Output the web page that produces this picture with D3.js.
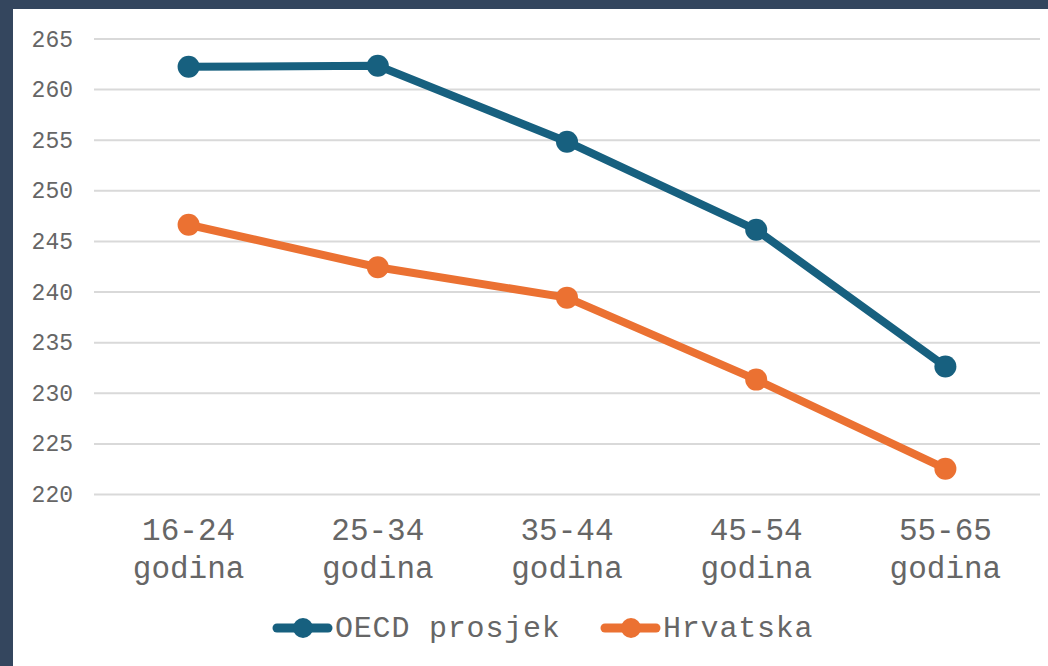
<!doctype html>
<html>
  <head>
    <meta charset="utf-8">
    <script src="https://cdn.jsdelivr.net/npm/d3@7"></script>
    <style>
      body { margin: 0; background: #ffffff; }
      svg { display: block; }
    </style>
  </head>
  <body>
    <script>
    // chart data
    var categories = ["16-24 godina", "25-34 godina", "35-44 godina", "45-54 godina", "55-65 godina"];
    var oecdValues = [262.2, 262.3, 254.8, 246.1, 232.6];
    var hrvValues = [246.6, 242.4, 239.4, 231.3, 222.5];
    var seriesNames = ["OECD prosjek", "Hrvatska"];
    var seriesColors = ["#17607f", "#eb7132"];
    var yTicks = [220, 225, 230, 235, 240, 245, 250, 255, 260, 265];

    var width = 1048;
    var height = 666;
    var font = "'Liberation Mono', 'Courier New', monospace";
    var textColor = "#666666";

    var svg = d3.select("body")
              .append("svg")
              .attr("width", width)
              .attr("height", height);

    // dark frame on top and left
    svg.append("rect").attr("x", 0).attr("y", 0).attr("width", width).attr("height", height).attr("fill", "#34465e");
    svg.append("rect").attr("x", 13).attr("y", 9).attr("width", width - 13).attr("height", height - 9).attr("fill", "#ffffff");

    var x = d3.scaleBand()
              .domain(categories)
              .range([94, 1040]);

    var y = d3.scaleLinear()
              .domain([220, 265])
              .range([494, 38.5]);

    // gridlines + y labels
    var yAxis = svg.append("g")
      .attr("transform", "translate(94,0)")
      .call(d3.axisLeft(y).tickValues(yTicks).tickSize(-946).tickPadding(21).tickFormat(d3.format("d")));
    yAxis.select(".domain").remove();
    yAxis.selectAll(".tick line").attr("stroke", "#d9d9d9").attr("stroke-width", 2);
    yAxis.selectAll(".tick text")
      .attr("font-family", font)
      .attr("font-size", "23px")
      .attr("fill", textColor)
      .attr("dy", "0.33em");

    // x labels, two lines each
    var xLabels = svg.append("g");
    categories.forEach(function(c) {
      var parts = c.split(" ");
      var cx = x(c) + x.bandwidth() / 2;
      var t = xLabels.append("text")
        .attr("text-anchor", "middle")
        .attr("font-family", font)
        .attr("font-size", "31px")
        .attr("fill", textColor);
      t.append("tspan").attr("x", cx).attr("y", 540).text(parts[0]);
      t.append("tspan").attr("x", cx).attr("y", 578).text(parts[1]);
    });

    var series = [oecdValues, hrvValues];

    var line = d3.line()
      .x(function(d, i) { return x(categories[i]) + x.bandwidth() / 2; })
      .y(function(d) { return y(d); });

    series.forEach(function(vals, s) {
      svg.append("path")
        .datum(vals)
        .attr("d", line)
        .attr("fill", "none")
        .attr("stroke", seriesColors[s])
        .attr("stroke-width", 8)
        .attr("stroke-linejoin", "round");

      svg.selectAll(".dot" + s)
        .data(vals)
        .enter()
        .append("circle")
        .attr("cx", function(d, i) { return x(categories[i]) + x.bandwidth() / 2; })
        .attr("cy", function(d) { return y(d); })
        .attr("r", 11)
        .attr("fill", seriesColors[s]);
    });

    // legend
    var legendX = [273, 601];
    seriesNames.forEach(function(name, s) {
      var g = svg.append("g").attr("transform", "translate(" + legendX[s] + ",628)");
      g.append("line")
        .attr("x1", 4).attr("x2", 55)
        .attr("y1", 0).attr("y2", 0)
        .attr("stroke", seriesColors[s])
        .attr("stroke-width", 9)
        .attr("stroke-linecap", "round");
      g.append("circle").attr("cx", 30).attr("cy", 0).attr("r", 10).attr("fill", seriesColors[s]);
      g.append("text")
        .attr("x", 62)
        .attr("y", 9)
        .attr("font-family", font)
        .attr("font-size", "30px")
        .attr("letter-spacing", "0.8px")
        .attr("fill", textColor)
        .text(name);
    });
    </script>
  </body>
</html>
